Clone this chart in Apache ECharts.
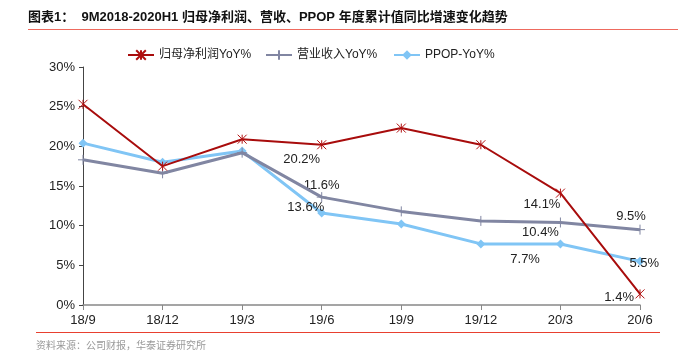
<!DOCTYPE html>
<html>
  <head>
    <meta charset="utf-8" />
    <title>图表1</title>
    <script src="https://cdn.jsdelivr.net/npm/echarts@6.0.0/dist/echarts.min.js"></script>
    <style>
      body { margin: 0; background: #fff; }
    </style>
  </head>
  <body>
    <div id="main" style="width: 678px;height:352px;"></div>

    <script type="text/javascript">
      var categories = ['18/9', '18/12', '19/3', '19/6', '19/9', '19/12', '20/3', '20/6'];
      var netProfit = [25.3, 17.5, 20.9, 20.2, 22.3, 20.2, 14.1, 1.4];
      var revenue = [18.3, 16.6, 19.2, 13.6, 11.8, 10.6, 10.4, 9.5];
      var ppop = [20.4, 18.0, 19.4, 11.6, 10.2, 7.7, 7.7, 5.5];
      var yTicks = [0, 5, 10, 15, 20, 25, 30];
      var seriesNames = ['归母净利润YoY%', '营业收入YoY%', 'PPOP-YoY%'];

      var font = '"Liberation Sans", Arial, "Noto Sans CJK SC", sans-serif';

      // which points get a value label, and where
      function labelled(values, spots) {
        return values.map(function (v, i) {
          var s = spots[i];
          if (!s) return v;
          return {
            value: v,
            label: {
              show: true,
              position: s.pos || 'left',
              offset: s.off || [0, 0],
              formatter: v.toFixed(1) + '%',
              color: '#222',
              fontSize: 13,
              fontFamily: font
            }
          };
        });
      }

      function legendAt(x, name) {
        return {
          top: 42,
          left: x,
          itemWidth: 26,
          itemHeight: 12,
          textStyle: { fontSize: 12, lineHeight: 16, height: 16, color: '#222', fontFamily: font },
          data: [name]
        };
      }

      var chart = echarts.init(document.getElementById('main'));

      var option = {
        animation: false,
        textStyle: { fontFamily: font },
        graphic: [
          {
            type: 'text', left: 28, top: 11,
            style: {
              text: '图表1：  9M2018-2020H1 归母净利润、营收、PPOP 年度累计值同比增速变化趋势',
              fontSize: 13, fontWeight: 'bold', fill: '#111',
              fontFamily: font
            }
          },
          {
            type: 'rect', shape: { x: 28, y: 29, width: 650, height: 1 },
            style: { fill: '#ee6a5e' }
          },
          {
            type: 'rect', shape: { x: 36, y: 332, width: 624, height: 1 },
            style: { fill: '#e8402f' }
          },
          {
            type: 'text', left: 36, top: 340,
            style: {
              text: '资料来源：公司财报，华泰证券研究所',
              fontSize: 10, fill: '#999', fontFamily: '"Noto Sans CJK SC", sans-serif'
            }
          }
        ],
        legend: [
          legendAt(122, seriesNames[0]),
          legendAt(260, seriesNames[1]),
          legendAt(388, seriesNames[2])
        ],
        grid: { left: 83, right: 38, top: 67, bottom: 47 },
        xAxis: {
          type: 'category',
          data: categories,
          boundaryGap: false,
          axisLine: { lineStyle: { color: '#888', width: 1.5 } },
          axisTick: { show: true, length: 5, lineStyle: { color: '#888' } },
          axisLabel: { color: '#222', fontSize: 13, margin: 9 }
        },
        yAxis: {
          type: 'value',
          min: 0,
          max: 30,
          interval: 5,
          axisLine: { show: true, lineStyle: { color: '#444' } },
          axisTick: { show: true, length: 4, lineStyle: { color: '#444' } },
          splitLine: { show: false },
          axisLabel: {
            color: '#222', fontSize: 13, margin: 8,
            formatter: function (v) { return yTicks.indexOf(v) >= 0 ? v + '%' : ''; }
          }
        },
        series: [
          {
            name: seriesNames[0],
            type: 'line',
            z: 3,
            symbol: 'path://M0,0L10,10M10,0L0,10M5,0L5,10',
            symbolSize: 9,
            color: '#a80c0c',
            itemStyle: { color: 'none', borderColor: '#b01010', borderWidth: 1 },
            lineStyle: { color: '#a80c0c', width: 2 },
            data: labelled(netProfit, {
              3: { pos: 'bottom', off: [-20, -4] },
              6: { pos: 'left', off: [12, 11] },
              7: { pos: 'left', off: [6, 4] }
            })
          },
          {
            name: seriesNames[1],
            type: 'line',
            z: 2,
            symbol: 'path://M5,0L5,10M0,5L10,5',
            symbolSize: 10,
            color: '#8186a2',
            itemStyle: { color: 'none', borderColor: '#8186a2', borderWidth: 1 },
            lineStyle: { color: '#8186a2', width: 3 },
            data: labelled(revenue, {
              3: { pos: 'left', off: [15, 10] },
              6: { pos: 'left', off: [11, 10] },
              7: { pos: 'top', off: [-9, 6] }
            })
          },
          {
            name: seriesNames[2],
            type: 'line',
            z: 1,
            symbol: 'diamond',
            symbolSize: 9,
            color: '#80c5f5',
            itemStyle: { color: '#80c5f5' },
            lineStyle: { color: '#80c5f5', width: 3 },
            data: labelled(ppop, {
              3: { pos: 'top', off: [0, -12] },
              6: { pos: 'left', off: [-11, 16] },
              7: { pos: 'right', off: [-20, 2] }
            })
          }
        ]
      };

      chart.setOption(option);
    </script>
  </body>
</html>
